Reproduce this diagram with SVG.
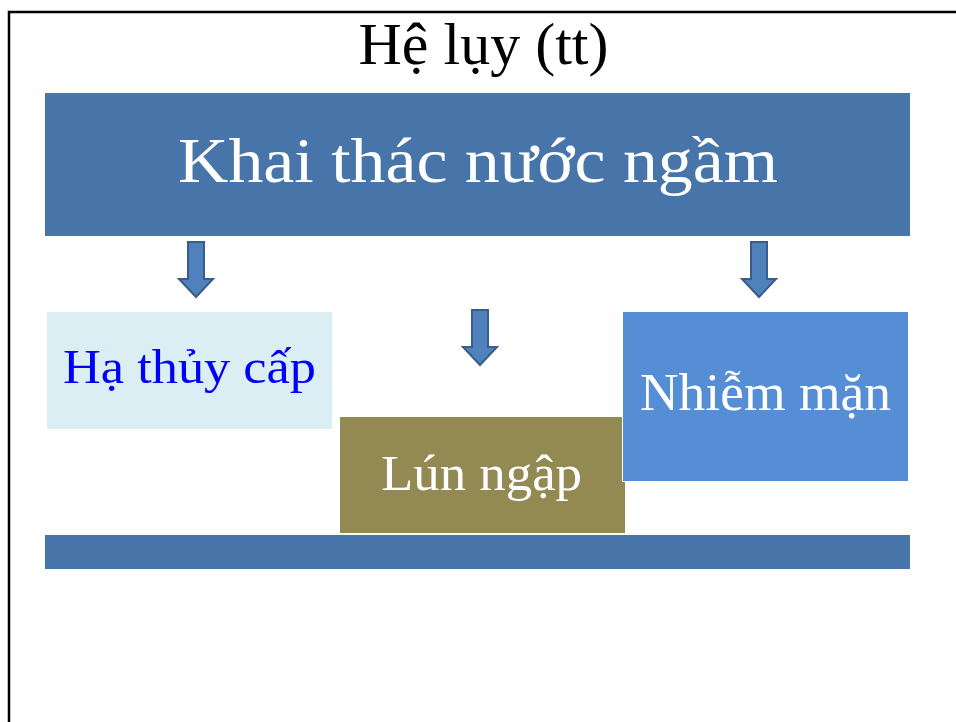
<svg xmlns="http://www.w3.org/2000/svg" width="956" height="722" viewBox="0 0 956 722">
  <style>
    .serif { font-family: "Liberation Serif", "DejaVu Serif", serif; }
    .arrow { fill: #4F81BD; stroke: #385D8A; stroke-width: 2; stroke-linejoin: miter; }
    .white { fill: #FFFFFF; }
  </style>
  <defs>
    <!-- down arrow, centred on x=0, top at y=0 -->
    <path id="down" d="M -8 0 H 8 V 37 H 17 L 0 55 L -17 37 H -8 Z"/>
  </defs>
  <rect x="0" y="0" width="956" height="722" fill="#FFFFFF"/>
  <!-- slide frame -->
  <rect x="9" y="12" width="970" height="730" fill="none" stroke="#000000" stroke-width="2.5"/>

  <text class="serif" x="483.5" y="64" font-size="60" text-anchor="middle" fill="#000000">Hệ lụy (tt)</text>

  <g id="source">
    <rect x="45" y="93" width="865" height="143" fill="#4775AA"/>
    <text class="serif white" x="478" y="182" font-size="64" text-anchor="middle" textLength="600" lengthAdjust="spacingAndGlyphs">Khai thác nước ngầm</text>
  </g>

  <g id="connectors">
    <use href="#down" class="arrow" x="196" y="242"/>
    <use href="#down" class="arrow" x="480" y="310"/>
    <use href="#down" class="arrow" x="759" y="242"/>
  </g>

  <g id="ha-thuy-cap">
    <rect x="47" y="312" width="285" height="117" fill="#DAEEF3"/>
    <text class="serif" x="189.5" y="383" font-size="48" text-anchor="middle" fill="#0000FF" textLength="253" lengthAdjust="spacingAndGlyphs">Hạ thủy cấp</text>
  </g>

  <g id="lun-ngap">
    <rect x="339.5" y="416.5" width="286" height="117" fill="#938953" stroke="#FFFFFF" stroke-width="1"/>
    <text class="serif white" x="481.5" y="490" font-size="50" text-anchor="middle" textLength="201" lengthAdjust="spacingAndGlyphs">Lún ngập</text>
  </g>

  <g id="nhiem-man">
    <rect x="622.5" y="311.5" width="286" height="170" fill="#558ED5" stroke="#FFFFFF" stroke-width="1"/>
    <text class="serif white" x="765.5" y="410" font-size="52" text-anchor="middle" textLength="251" lengthAdjust="spacingAndGlyphs">Nhiễm mặn</text>
  </g>

  <g id="base">
    <rect x="45" y="535" width="865" height="34" fill="#4775AA"/>
  </g>
</svg>
